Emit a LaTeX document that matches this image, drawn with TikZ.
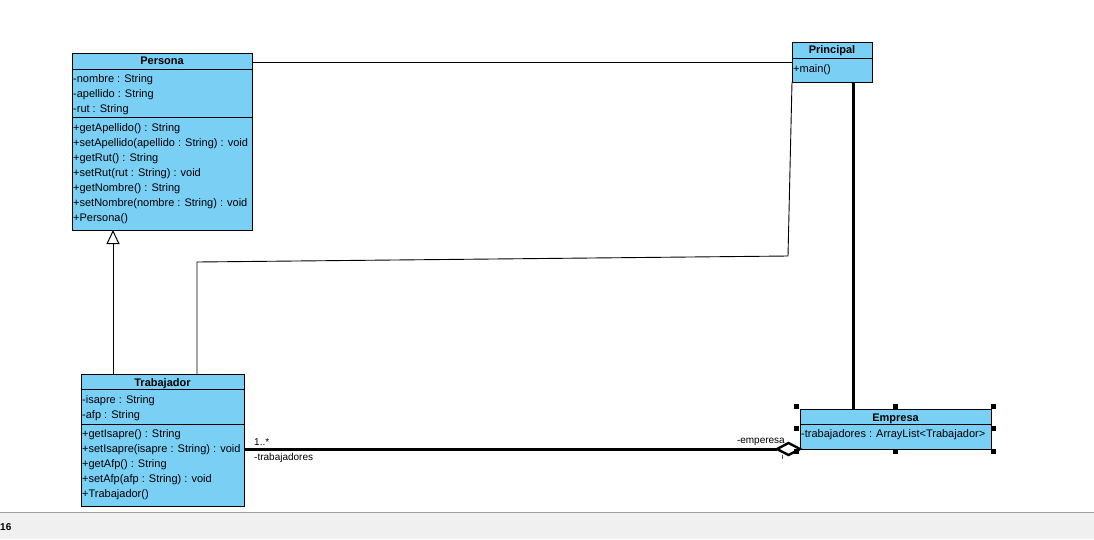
\documentclass[tikz,border=0pt]{standalone}
\usepackage{fontspec}
\setmainfont{Liberation Sans}
\usetikzlibrary{arrows.meta}
\definecolor{umlblue}{RGB}{122,207,245}
\definecolor{barfill}{RGB}{240,240,240}
\definecolor{barline}{RGB}{160,160,160}
\begin{document}
\begin{tikzpicture}[x=1pt,y=-1pt,
  umlbox/.style={draw=black, line width=1pt, fill=umlblue, anchor=north west, inner sep=0pt, outer sep=0pt},
  sepline/.style={draw=black, line width=1pt},
  ttl/.style={font=\fontsize{11}{13}\selectfont\bfseries, anchor=base, inner sep=0pt},
  txt/.style={font=\fontsize{11}{13}\selectfont, anchor=base west, inner sep=0pt},
  lbl/.style={font=\fontsize{10}{12}\selectfont, inner sep=0pt},
  thinconn/.style={draw=black, line width=0.9pt},
  thickconn/.style={draw=black, line width=3pt},
  inherit/.style={thinconn, -{Triangle[open, length=14pt, width=13pt, line width=1pt]}},
  diamondtip/.style={draw=black, fill=white, line width=2.4pt, line join=miter},
  handle/.style={fill=black}
]
\useasboundingbox (0,0) rectangle (1094,539);
\fill[white] (0,0) rectangle (1094,539);

% status bar
\fill[barfill] (0,512) rectangle (1094,539);
\draw[barline, line width=1pt] (0,512) -- (1094,512);
\node[font=\fontsize{10}{12}\selectfont\bfseries, anchor=base west, inner sep=0pt] (pg) at (0,530) {16};

% boxes
\node[umlbox, minimum width=180pt, minimum height=177pt] (persona) at (72,53) {};
\node[umlbox, minimum width=163pt, minimum height=132pt] (trab) at (81,374) {};
\node[umlbox, minimum width=80pt, minimum height=40pt] (principal) at (792,42) {};
\node[umlbox, minimum width=191pt, minimum height=40pt] (empresa) at (800,409) {};

% compartments
\draw[sepline] (persona.north west) ++(0,16) -- ++(180,0);
\draw[sepline] (persona.north west) ++(0,64) -- ++(180,0);
\draw[sepline] (trab.north west) ++(0,15) -- ++(163,0);
\draw[sepline] (trab.north west) ++(0,50) -- ++(163,0);
\draw[sepline] (principal.north west) ++(0,16) -- ++(80,0);
\draw[sepline] (empresa.north west) ++(0,15) -- ++(191,0);

% Persona texts
\node[ttl] (personaT) at (162,64) {Persona};
\node[txt] (p1) at (73,82) {-nombre : String};
\node[txt] (p2) at (73,97) {-apellido : String};
\node[txt] (p3) at (73,112) {-rut : String};
\node[txt] (p4) at (73,131) {+getApellido() : String};
\node[txt] (p5) at (73,146) {+setApellido(apellido : String) : void};
\node[txt] (p6) at (73,161) {+getRut() : String};
\node[txt] (p7) at (73,176) {+setRut(rut : String) : void};
\node[txt] (p8) at (73,191) {+getNombre() : String};
\node[txt] (p9) at (73,206) {+setNombre(nombre : String) : void};
\node[txt] (p10) at (73,221) {+Persona()};

% Trabajador texts
\node[ttl] (trabT) at (162.5,386) {Trabajador};
\node[txt] (t1) at (82,403) {-isapre : String};
\node[txt] (t2) at (82,418) {-afp : String};
\node[txt] (t3) at (82,437) {+getIsapre() : String};
\node[txt] (t4) at (82,452) {+setIsapre(isapre : String) : void};
\node[txt] (t5) at (82,467) {+getAfp() : String};
\node[txt] (t6) at (82,482) {+setAfp(afp : String) : void};
\node[txt] (t7) at (82,497) {+Trabajador()};

% Principal texts
\node[ttl] (principalT) at (832,53) {Principal};
\node[txt] (m1) at (793,72) {+main()};

% Empresa texts
\node[ttl] (empresaT) at (895.5,421) {Empresa};
\node[txt] (e1) at (801,437) {-trabajadores : ArrayList<Trabajador>};

% connectors
\draw[thinconn] (persona.east |- principal.west) -- (principal.west);

\coordinate (inh) at (113,374);
\draw[inherit] (inh) -- (inh |- persona.south);

\coordinate (tp) at (197,374);
\coordinate (tpA) at (197,262);
\coordinate (tpB) at (788,256);
\draw[thinconn] (tp) -- (tpA) -- (tpB) -- (principal.south west);

\coordinate (pe) at (853,82);
\draw[thickconn] (pe) -- (pe |- empresa.north);

\coordinate (dback) at (777,449);
\draw[thickconn] (trab.east |- dback) -- (dback);
\draw[diamondtip] (dback) -- ++(11.5,-6) -- (empresa.south west) -- ++(-11.5,6) -- cycle;
\node[lbl, anchor=base west] (m1l) at (254,445) {1..*};
\node[lbl, anchor=base west] (r1l) at (254,460) {-trabajadores};
\node[lbl, anchor=base east] (r2l) at (785,443.5) {-emperesa};
\draw[black!70, line width=0.8pt] (782.5,454.5) -- (782.5,459);

% selection handles
\foreach \hx/\hy in {796/406, 895/406, 993/406, 796/428.5, 993/428.5, 796/451.5, 895/451.5, 993/451.5}
  \fill[handle] (\hx-2.5,\hy-2.5) rectangle (\hx+2.5,\hy+2.5);
\end{tikzpicture}
\end{document}
